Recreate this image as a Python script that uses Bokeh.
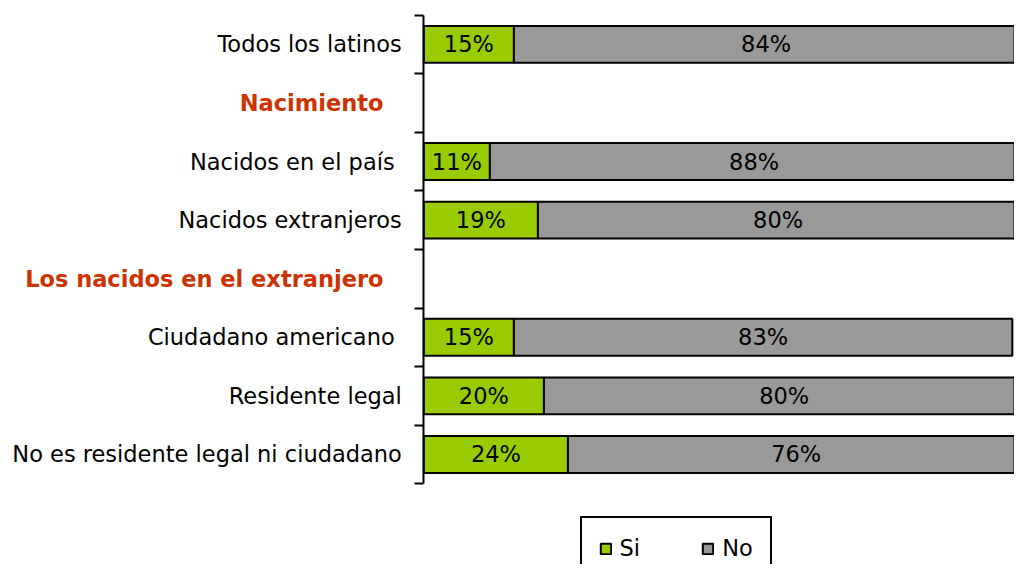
from bokeh.plotting import figure
from bokeh.models import Range1d, FixedTicker, Legend, LegendItem, ColumnDataSource
from bokeh.core.properties import value
from bokeh.embed import file_html
from bokeh.resources import INLINE

# Row order, top to bottom
row_order = ["Todos los latinos", "Nacimiento", "Nacidos en el país\u00a0", "Nacidos extranjeros",
             "Los nacidos en el extranjero", "Ciudadano americano\u00a0", "Residente legal",
             "No es residente legal ni ciudadano"]
headers = ["Nacimiento", "Los nacidos en el extranjero"]
bar_labels = ["Todos los latinos", "Nacidos en el país\u00a0", "Nacidos extranjeros",
              "Ciudadano americano\u00a0", "Residente legal", "No es residente legal ni ciudadano"]
si = [15, 11, 19, 15, 20, 24]
no = [84, 88, 80, 83, 80, 76]

FONT = "DejaVu Sans"
FS = "22.5px"
GREEN = "#99CC00"
GRAY = "#999999"
RED = "#CC3300"

W, H = 1014, 564                       # canvas size (fits the 1030x580 window)
SX, SY = W / 1030, H / 580             # scale from the 1030x580 design
AXIS_X = 430 * SX                      # screen x of the value axis
TOP = 15 * SY                          # screen y of the top of the category band
PX_PER_PCT = 6.1 * SX
PX_PER_ROW = 60.25 * SY

n = len(row_order)
ypos = {lab: n - 0.5 - i for i, lab in enumerate(row_order)}

ys = [ypos[l] for l in bar_labels]
src = ColumnDataSource(dict(
    y=ys, si=si, no=no,
    no_left=si, no_right=[a + b for a, b in zip(si, no)],
    si_mid=[a / 2 for a in si], no_mid=[a + b / 2 for a, b in zip(si, no)],
    si_txt=[f"{v}%" for v in si], no_txt=[f"{v}%" for v in no],
))

x0 = -AXIS_X / PX_PER_PCT
x1 = (W - AXIS_X) / PX_PER_PCT
y1 = n + TOP / PX_PER_ROW
y0 = n - (H - TOP) / PX_PER_ROW

p = figure(width=W, height=H, output_backend="svg", toolbar_location=None,
           x_range=Range1d(x0, x1), y_range=Range1d(y0, y1),
           min_border_left=0, min_border_right=0, min_border_top=0, min_border_bottom=0)
p.outline_line_color = None
p.xgrid.visible = False
p.ygrid.visible = False
p.xaxis.visible = False
p.title.visible = False

r_si = p.hbar(y="y", left=0, right="si", height=0.63, source=src,
              fill_color=GREEN, line_color="black", line_width=2)
r_no = p.hbar(y="y", left="no_left", right="no_right", height=0.63, source=src,
              fill_color=GRAY, line_color="black", line_width=2)

p.text(x="si_mid", y="y", text="si_txt", source=src, text_align="center", text_baseline="middle",
       text_font=value(FONT), text_font_size=FS, text_color="black")
p.text(x="no_mid", y="y", text="no_txt", source=src, text_align="center", text_baseline="middle",
       text_font=value(FONT), text_font_size=FS, text_color="black")

# section headers (bold, red) to the left of the axis
p.text(x=[-41 * SX / PX_PER_PCT] * len(headers), y=[ypos[h] for h in headers], text=headers,
       text_align="right", text_baseline="middle", text_font=value(FONT),
       text_font_size=FS, text_font_style="bold", text_color=RED)

ax = p.yaxis[0]
ax.fixed_location = 0
ax.bounds = (0, n)
ax.ticker = FixedTicker(ticks=[ypos[l] for l in row_order], minor_ticks=list(range(n + 1)))
ax.major_label_overrides = {ypos[l]: ("" if l in headers else l) for l in row_order}
ax.major_tick_line_color = None
ax.major_tick_out = 0
ax.major_tick_in = 0
ax.minor_tick_out = 9
ax.minor_tick_in = 0
ax.minor_tick_line_color = "black"
ax.minor_tick_line_width = 2
ax.axis_line_color = "black"
ax.axis_line_width = 2
ax.major_label_standoff = 13
ax.major_label_text_font = FONT
ax.major_label_text_font_size = FS
ax.major_label_text_color = "black"

PAD = 17
legend = Legend(items=[LegendItem(label="Si", renderers=[r_si]),
                       LegendItem(label="No", renderers=[r_no])],
                orientation="horizontal", location=(606 * SX - PAD, H - 532 * SY - (2 * PAD + 29)),
                padding=PAD, spacing=61, margin=0, label_standoff=8,
                glyph_width=13, glyph_height=13,
                label_text_font=FONT, label_text_font_size=FS, label_text_color="black",
                border_line_color="black", border_line_width=2, border_line_alpha=1,
                background_fill_color="white", background_fill_alpha=1)
p.add_layout(legend, "center")

open("out.html", "w").write(file_html(p, INLINE))
